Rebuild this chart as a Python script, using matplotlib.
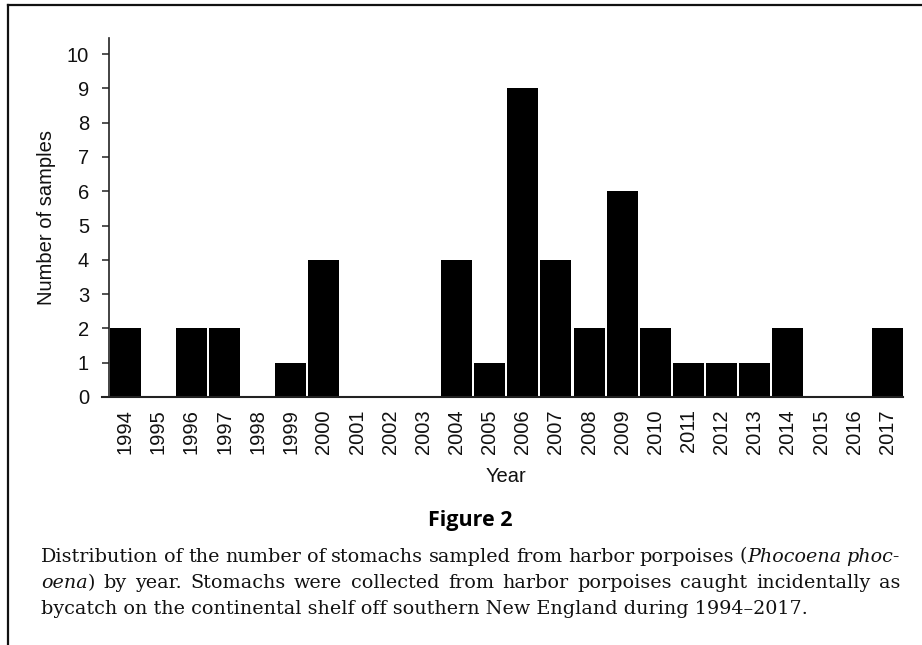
import matplotlib.pyplot as plt
from matplotlib.lines import Line2D

years = [str(y) for y in range(1994, 2018)]
samples = [2, 0, 2, 2, 0, 1, 4, 0, 0, 0, 4, 1, 9, 4, 2, 6, 2, 1, 1, 1, 2, 0, 0, 2]
yticks = list(range(0, 11))

caption_lines = [
    [[("Distribution", False)], [("of", False)], [("the", False)], [("number", False)],
     [("of", False)], [("stomachs", False)], [("sampled", False)], [("from", False)],
     [("harbor", False)], [("porpoises", False)], [("(", False), ("Phocoena", True)],
     [("phoc-", True)]],
    [[("oena", True), (")", False)], [("by", False)], [("year.", False)], [("Stomachs", False)],
     [("were", False)], [("collected", False)], [("from", False)], [("harbor", False)],
     [("porpoises", False)], [("caught", False)], [("incidentally", False)], [("as", False)]],
]
caption_last = "bycatch on the continental shelf off southern New England during 1994\u20132017."

W, H = 922, 645
fig = plt.figure(figsize=(W / 100, H / 100), dpi=100)
fig.patch.set_facecolor('white')

# plot area in pixel terms of the reference
ax = fig.add_axes([108.5 / W, 1 - 397 / H, (903 - 108.5) / W, (397 - 38) / H])
x = list(range(len(years)))
ax.bar(x, samples, width=0.935, color='black', edgecolor='none')
ax.set_xlim(-0.5, 23.47)
ax.set_ylim(0, 10.47)
ax.set_xticks(x)
ax.set_xticklabels(years, rotation=90, fontsize=14.5, family='Liberation Sans', color='#111111')
ax.set_yticks(yticks)
ax.set_yticklabels([str(v) for v in yticks], fontsize=14.5, family='Liberation Sans', color='#111111')
ax.tick_params(axis='x', length=0, pad=9)
ax.tick_params(axis='y', length=5, width=1.1, pad=9, color='#222222')
for s in ['top', 'right']:
    ax.spines[s].set_visible(False)
ax.spines['left'].set_color('#222222')
ax.spines['left'].set_linewidth(1.2)
ax.spines['bottom'].set_color('#222222')
ax.spines['bottom'].set_linewidth(1.5)
ax.spines['bottom'].set_bounds(-0.69, 23.47)

ax.set_xlabel('Year', fontsize=14.5, family='Liberation Sans', color='#111111')
ax.xaxis.set_label_coords(0.5, -0.195)
ax.set_ylabel('Number of samples', fontsize=14.5, family='Liberation Sans', color='#111111')
ax.yaxis.set_label_coords(-0.066, 0.5)

# page frame (top and left rules)
fig.add_artist(Line2D([7.5 / W, 1.0], [1 - 5 / H, 1 - 5 / H], color='#111111', linewidth=1.6))
fig.add_artist(Line2D([7.5 / W, 7.5 / W], [1 - 5 / H, 0.0], color='#111111', linewidth=1.6))

fig.text(470 / W, 1 - 526 / H, 'Figure 2', ha='center', va='baseline',
         family='Open Sans', fontweight='bold', fontsize=15.5, color='black')

# justified caption
cap_size = 13.8
left_px, right_px = 41, 900
baselines = [561.5, 588, 614.5]
renderer = fig.canvas.get_renderer()

for line, base in zip(caption_lines, baselines):
    word_artists = []
    widths = []
    for word in line:
        parts = []
        wsum = 0
        for txt, ital in word:
            t = fig.text(0, 1 - base / H, txt, ha='left', va='baseline', family='DejaVu Serif',
                         fontsize=cap_size, style='italic' if ital else 'normal', color='#111111')
            w = t.get_window_extent(renderer).width
            parts.append((t, w))
            wsum += w
        word_artists.append(parts)
        widths.append(wsum)
    gap = (right_px - left_px - sum(widths)) / (len(line) - 1)
    xpos = left_px
    for parts, wsum in zip(word_artists, widths):
        xp = xpos
        for t, w in parts:
            t.set_x(xp / W)
            xp += w
        xpos += wsum + gap

fig.text(left_px / W, 1 - baselines[2] / H, caption_last, ha='left', va='baseline',
         family='DejaVu Serif', fontsize=cap_size, color='#111111')

fig.savefig('out.png', dpi=100)
